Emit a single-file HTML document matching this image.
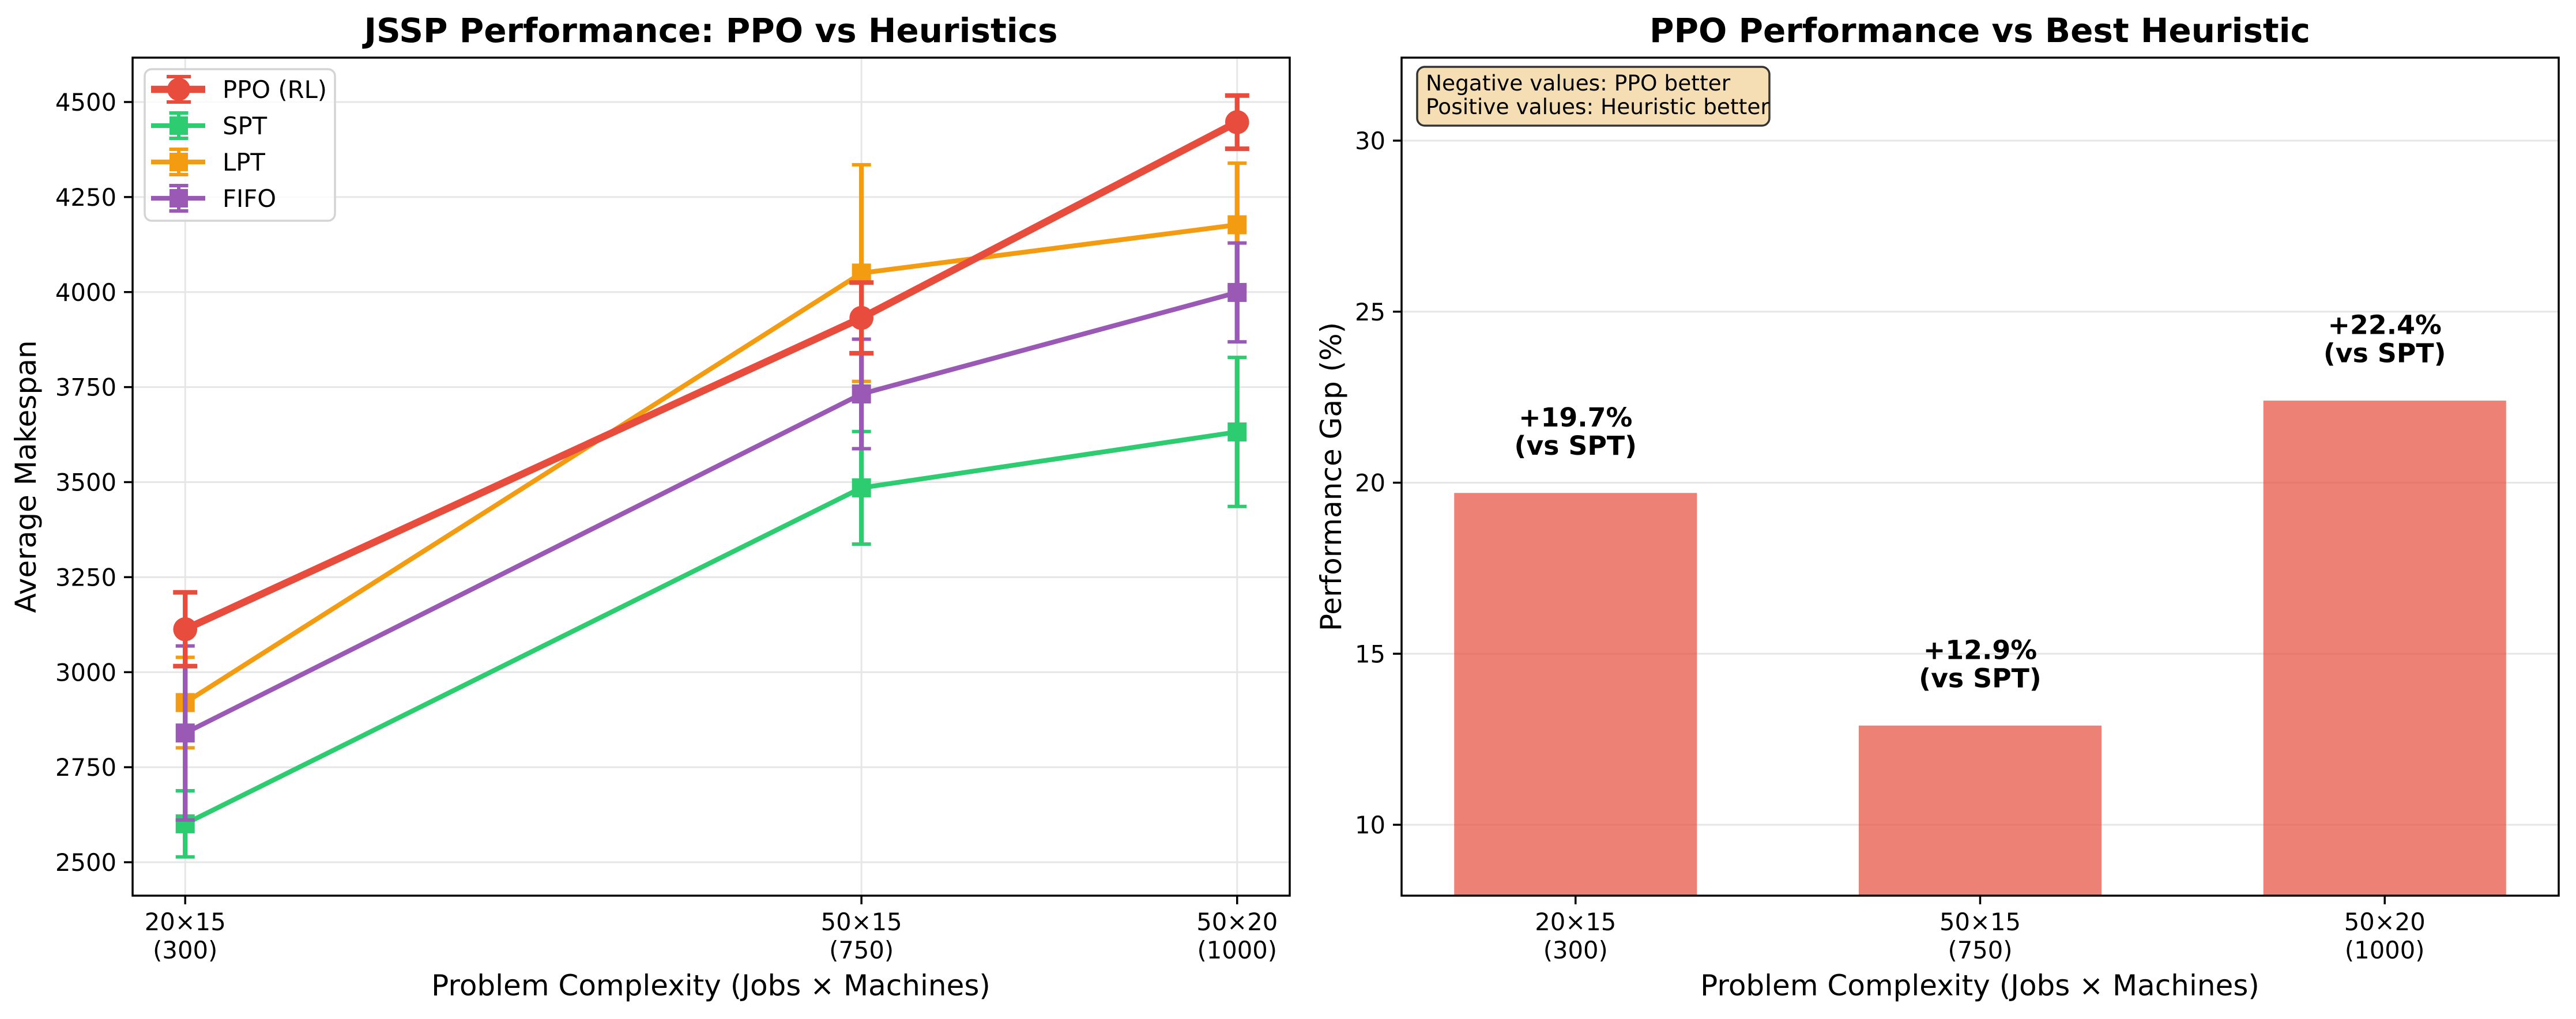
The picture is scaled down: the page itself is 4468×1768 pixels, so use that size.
<!DOCTYPE html>
<html><head><meta charset="utf-8"><style>
html,body{margin:0;padding:0;background:#fff;}
svg{display:block;font-family:"DejaVu Sans","Liberation Sans",sans-serif;}
</style></head><body>
<svg id="fig" width="4468" height="1768" viewBox="0 0 4468 1768" xmlns="http://www.w3.org/2000/svg">
<rect width="4468" height="1768" fill="#fff"/>
<g id="left"></g>
<g id="right"></g>
</svg>
<script>
const NS="http://www.w3.org/2000/svg";
// ---- data: left chart
const complexity=[300,750,1000];
const catLabels=["20×15","50×15","50×20"];
const catSub=["(300)","(750)","(1000)"];
const ppoMean=[3113,3932,4447];
const ppoErr=[97,93,70];
const sptMean=[2601,3485,3632];
const sptErr=[87,148,196];
const lptMean=[2920,4050,4177];
const lptErr=[119,285,162];
const fifoMean=[2840,3732,3999];
const fifoErr=[229,144,130];
const leftTicks=[2500,2750,3000,3250,3500,3750,4000,4250,4500];
// ---- data: right chart
const gapValues=[19.7,12.9,22.4];
const gapRefs=["SPT","SPT","SPT"];
const rightTicks=[10,15,20,25,30];

function el(tag,attrs,parent,text){const e=document.createElementNS(NS,tag);for(const k in attrs)e.setAttribute(k,attrs[k]);if(text!==undefined)e.textContent=text;parent.appendChild(e);return e;}

// ---- left chart
const L=document.getElementById('left');
const LA={x0:230,x1:2237,y0:100,y1:1554};
const lx=v=>LA.x0+(v-265)/(1035-265)*(LA.x1-LA.x0);
const ly=v=>1496-(v-2500)*0.6595;
leftTicks.forEach(t=>{
 const g=el('line',{x1:LA.x0,x2:LA.x1,y1:ly(t),y2:ly(t),stroke:'#e6e6e6','stroke-width':3},L);
 
 el('line',{x1:LA.x0-15,x2:LA.x0,y1:ly(t),y2:ly(t),stroke:'#000','stroke-width':3.5},L);
 const tx=el('text',{x:LA.x0-28,y:ly(t)+15,'text-anchor':'end','font-size':41.7},L,String(t));
 
});
complexity.forEach((c,i)=>{
 const g=el('line',{x1:lx(c),x2:lx(c),y1:LA.y0,y2:LA.y1,stroke:'#e6e6e6','stroke-width':3},L);
 
 el('line',{x1:lx(c),x2:lx(c),y1:LA.y1,y2:LA.y1+15,stroke:'#000','stroke-width':3.5},L);
 const t1=el('text',{x:lx(c),y:1614,'text-anchor':'middle','font-size':41.7},L,catLabels[i]);
 
 const t2=el('text',{x:lx(c),y:1663,'text-anchor':'middle','font-size':41.7},L,catSub[i]);
 
});
const series=[
 {name:'SPT',m:sptMean,e:sptErr,c:'#2ecc71',lw:8.3,cap:16.5,ct:6,mk:'s',ms:33},
 {name:'LPT',m:lptMean,e:lptErr,c:'#f39c12',lw:8.3,cap:16.5,ct:6,mk:'s',ms:33},
 {name:'FIFO',m:fifoMean,e:fifoErr,c:'#9b59b6',lw:8.3,cap:16.5,ct:6,mk:'s',ms:33},
 {name:'PPO',m:ppoMean,e:ppoErr,c:'#e74c3c',lw:12.5,cap:21,ct:8,mk:'o',ms:41.7}
];
series.forEach(s=>{
 const g=el('g',{},L);
 
 
 const pts=s.m.map((v,i)=>lx(complexity[i])+','+ly(v)).join(' ');
 el('polyline',{points:pts,fill:'none',stroke:s.c,'stroke-width':s.lw},g);
 s.m.forEach((v,i)=>{
  const x=lx(complexity[i]);
  el('line',{x1:x,x2:x,y1:ly(v-s.e[i]),y2:ly(v+s.e[i]),stroke:s.c,'stroke-width':8.3},g);
  [v-s.e[i],v+s.e[i]].forEach(w=>el('line',{x1:x-s.cap,x2:x+s.cap,y1:ly(w),y2:ly(w),stroke:s.c,'stroke-width':s.ct},g));
  let m;
  if(s.mk==='o') m=el('circle',{cx:x,cy:ly(v),r:s.ms/2,fill:s.c},g);
  else m=el('rect',{x:x-s.ms/2,y:ly(v)-s.ms/2,width:s.ms,height:s.ms,fill:s.c},g);
  
  
 });
});
el('rect',{x:LA.x0,y:LA.y0,width:LA.x1-LA.x0,height:LA.y1-LA.y0,fill:'none',stroke:'#000','stroke-width':3.5},L);
// legend
const lg=el('g',{},L);

el('rect',{x:251,y:120,width:330,height:263,rx:12,fill:'#fff','fill-opacity':0.8,stroke:'#d4d4d4','stroke-width':3.5},lg);
const legItems=[['PPO (RL)','#e74c3c',12.5,'o'],['SPT','#2ecc71',8.3,'s'],['LPT','#f39c12',8.3,'s'],['FIFO','#9b59b6',8.3,'s']];
legItems.forEach((it,i)=>{
 const y=155+i*63;
 const e=el('g',{},lg);
 
 el('line',{x1:262,x2:356,y1:y,y2:y,stroke:it[1],'stroke-width':it[2]},e);
 el('line',{x1:310,x2:310,y1:y-22,y2:y+22,stroke:it[1],'stroke-width':6},e);
 const cw=it[3]==='o'?21:16.5;
 el('line',{x1:310-cw,x2:310+cw,y1:y-22,y2:y-22,stroke:it[1],'stroke-width':6},e);
 el('line',{x1:310-cw,x2:310+cw,y1:y+22,y2:y+22,stroke:it[1],'stroke-width':6},e);
 if(it[3]==='o') el('circle',{cx:310,cy:y,r:20,fill:it[1]},e);
 else el('rect',{x:294,y:y-16,width:32,height:32,fill:it[1]},e);
 el('text',{x:386,y:y+15,'font-size':41.7},e,it[0]);
});
let t=el('text',{x:1233,y:73,'text-anchor':'middle','font-size':58,'font-weight':'bold'},L,'JSSP Performance: PPO vs Heuristics');

t=el('text',{x:1233,y:1727,'text-anchor':'middle','font-size':50},L,'Problem Complexity (Jobs × Machines)');

t=el('text',{x:0,y:0,'text-anchor':'middle','font-size':50,transform:'translate(62,827) rotate(-90)'},L,'Average Makespan');


// ---- right chart
const R=document.getElementById('right');
const RA={x0:2431,x1:4438,y0:100,y1:1554};
const rx=i=>RA.x0+(i+0.43)/2.86*(RA.x1-RA.x0);
const ry=v=>1431-(v-10)*59.35;
rightTicks.forEach(tk=>{
 const g=el('line',{x1:RA.x0,x2:RA.x1,y1:ry(tk),y2:ry(tk),stroke:'#e6e6e6','stroke-width':3},R);
 
 el('line',{x1:RA.x0-15,x2:RA.x0,y1:ry(tk),y2:ry(tk),stroke:'#000','stroke-width':3.5},R);
 const tx=el('text',{x:RA.x0-28,y:ry(tk)+15,'text-anchor':'end','font-size':41.7},R,String(tk));
 
});
const bw=0.6/2.86*(RA.x1-RA.x0);
gapValues.forEach((v,i)=>{
 const b=el('rect',{x:rx(i)-bw/2,y:ry(v),width:bw,height:RA.y1-ry(v),fill:'rgba(231,76,60,0.7)'},R);
 
 
 const l=el('text',{x:rx(i),y:ry(v+1)-56,'text-anchor':'middle','font-size':45.8,'font-weight':'bold'},R,(v>=0?'+':'')+v.toFixed(1)+'%');
 
 const l2=el('text',{x:rx(i),y:ry(v+1)-7,'text-anchor':'middle','font-size':45.8,'font-weight':'bold'},R,'(vs '+gapRefs[i]+')');
 
 el('line',{x1:rx(i),x2:rx(i),y1:RA.y1,y2:RA.y1+15,stroke:'#000','stroke-width':3.5},R);
 const t1=el('text',{x:rx(i),y:1614,'text-anchor':'middle','font-size':41.7},R,catLabels[i]);
 
 const t2=el('text',{x:rx(i),y:1663,'text-anchor':'middle','font-size':41.7},R,catSub[i]);
 
});
el('rect',{x:RA.x0,y:RA.y0,width:RA.x1-RA.x0,height:RA.y1-RA.y0,fill:'none',stroke:'#000','stroke-width':3.5},R);
const nb=el('g',{},R);

el('rect',{x:2458,y:116,width:611,height:102,rx:13,fill:'#f5deb3',stroke:'#333','stroke-width':3.5},nb);
el('text',{x:2473,y:157,'font-size':37.5},nb,'Negative values: PPO better');
el('text',{x:2473,y:198,'font-size':37.5},nb,'Positive values: Heuristic better');
t=el('text',{x:3434,y:73,'text-anchor':'middle','font-size':58,'font-weight':'bold'},R,'PPO Performance vs Best Heuristic');

t=el('text',{x:3434,y:1727,'text-anchor':'middle','font-size':50},R,'Problem Complexity (Jobs × Machines)');

t=el('text',{x:0,y:0,'text-anchor':'middle','font-size':50,transform:'translate(2326,827) rotate(-90)'},R,'Performance Gap (%)');

</script>
</body></html>
